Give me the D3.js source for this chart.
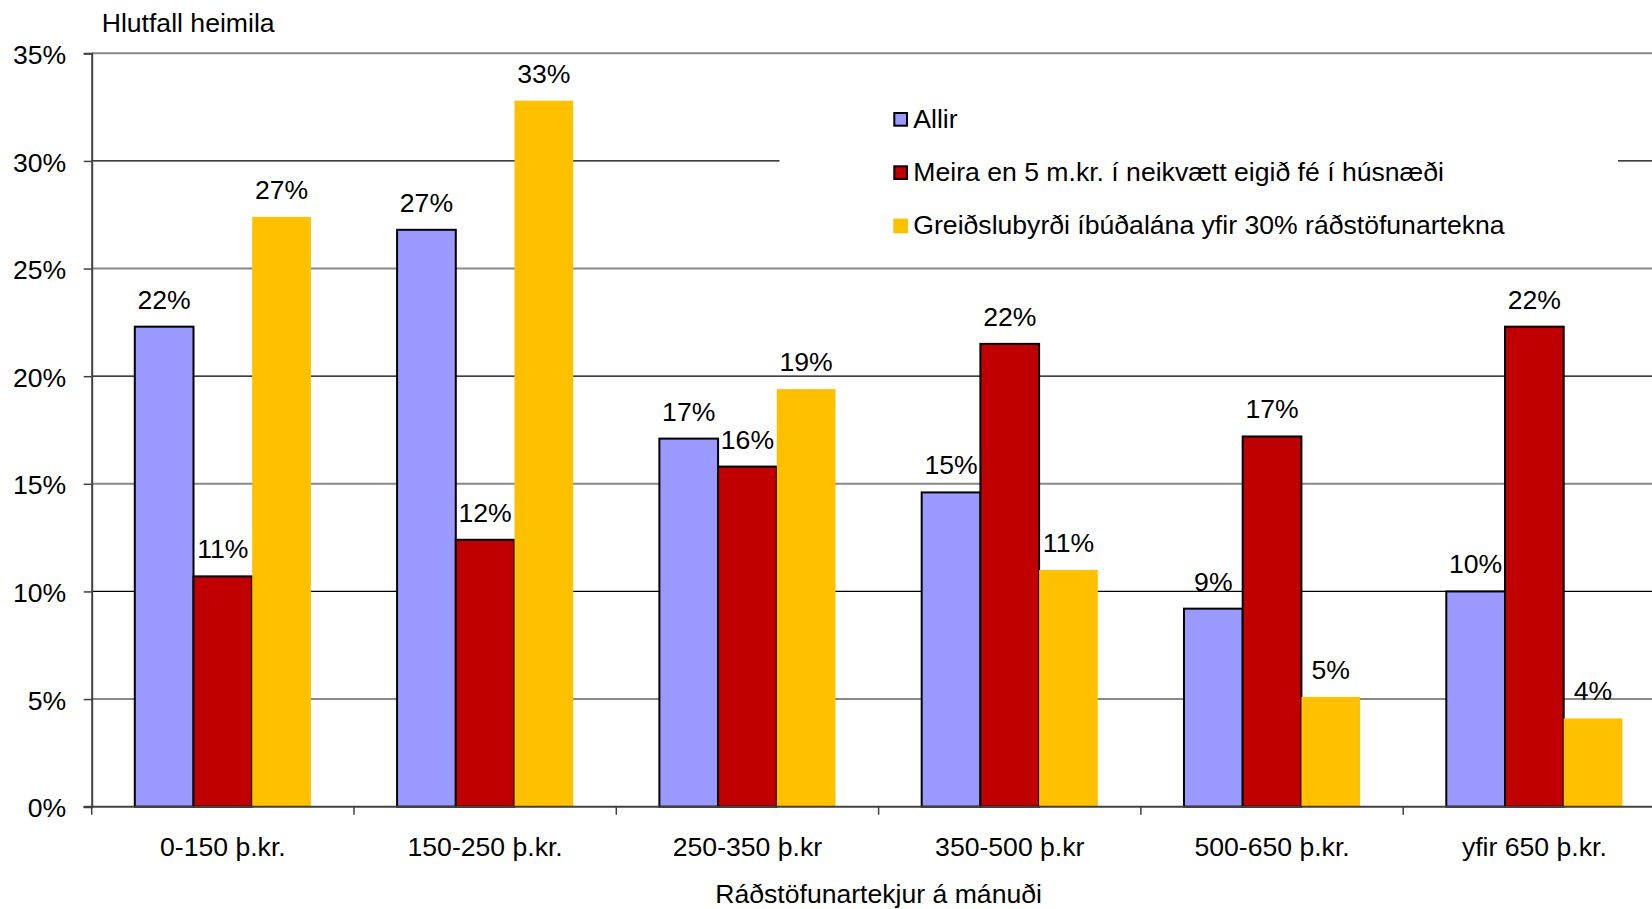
<!DOCTYPE html>
<html>
<head>
<meta charset="utf-8">
<script src="https://cdn.jsdelivr.net/npm/d3@7"></script>
<style>
  html, body { margin: 0; padding: 0; background: #fff; }
  svg { display: block; font-family: "Liberation Sans", Arial, sans-serif; }
</style>
</head>
<body>
<svg id="chart" width="1652" height="909"></svg>
<script>
// Income brackets (monthly disposable income)
const categories = ["0-150 þ.kr.", "150-250 þ.kr.", "250-350 þ.kr", "350-500 þ.kr", "500-650 þ.kr.", "yfir 650 þ.kr."];
const seriesNames = [
  "Allir",
  "Meira en 5 m.kr. í neikvætt eigið fé í húsnæði",
  "Greiðslubyrði íbúðalána yfir 30% ráðstöfunartekna"
];
// Share of households, percent
const allir      = [22.3, 26.8, 17.1, 14.6, 9.2, 10.0];
const neikvaett  = [10.7, 12.4, 15.8, 21.5, 17.2, 22.3];
const greidslu   = [27.4, 32.8, 19.4, 11.0, 5.1, 4.1];
const yTicks = [0, 5, 10, 15, 20, 25, 30, 35];
const yTitle = "Hlutfall heimila";
const xTitle = "Ráðstöfunartekjur á mánuði";

(function () {
const seriesValues = [allir, neikvaett, greidslu];
const colors = ["#9999FF", "#C00000", "#FFC000"];
const strokes = ["#000", "#000", "none"];
const fontSize = 26.6;

const svg = d3.select("#chart");

const plotLeft = 91.7, plotTop = 53.3, plotBottom = 806.7;
const catWidth = 262.3;
const plotRight = plotLeft + catWidth * categories.length;

const x0 = d3.scaleBand().domain(categories).range([plotLeft, plotRight]).padding(0);
const x1 = d3.scaleBand().domain(d3.range(seriesNames.length))
  .range([0, x0.bandwidth()]).paddingInner(0).paddingOuter(0.734);
const y = d3.scaleLinear().domain([0, 35]).range([plotBottom, plotTop]);

// Gridlines
svg.append("g").selectAll("line").data(yTicks.filter(d => d > 0)).join("line")
  .attr("x1", plotLeft).attr("x2", 1660)
  .attr("y1", d => y(d)).attr("y2", d => y(d))
  .attr("stroke", d => d % 10 === 0 ? "#000" : "#888")
  .attr("stroke-width", d => d % 10 === 0 ? 1.2 : 2);

// Legend background (breaks the gridline behind it)
svg.append("rect").attr("x", 779.5).attr("y", 82).attr("width", 838.5).attr("height", 172).attr("fill", "#fff");

// Bars
const rows = categories.map((c, i) => ({ cat: c, vals: seriesValues.map(s => s[i]) }));
const groups = svg.append("g").selectAll("g").data(rows).join("g")
  .attr("transform", d => `translate(${x0(d.cat)},0)`);

groups.selectAll("rect").data(d => d.vals.map((v, k) => ({ v, k }))).join("rect")
  .attr("x", d => x1(d.k))
  .attr("y", d => y(d.v))
  .attr("width", x1.bandwidth())
  .attr("height", d => y(0) - y(d.v))
  .attr("fill", d => colors[d.k])
  .attr("stroke", d => strokes[d.k])
  .attr("stroke-width", 2);

groups.selectAll("text").data(d => d.vals.map((v, k) => ({ v, k }))).join("text")
  .attr("x", d => x1(d.k) + x1.bandwidth() / 2)
  .attr("y", d => y(d.v) - 18)
  .attr("text-anchor", "middle")
  .attr("font-size", fontSize)
  .attr("fill", "#000")
  .text(d => Math.round(d.v) + "%");

// Y axis
const yAxis = svg.append("g").attr("transform", `translate(${plotLeft},0)`)
  .call(d3.axisLeft(y).tickValues(yTicks).tickFormat(d => d + "%").tickSize(8).tickPadding(17.5));
yAxis.select(".domain").attr("stroke", "#404040").attr("stroke-width", 2);
yAxis.selectAll(".tick line").attr("stroke", "#404040").attr("stroke-width", 1.5);
yAxis.selectAll("text").attr("font-size", fontSize).attr("font-family", "Liberation Sans, Arial, sans-serif")
  .attr("fill", "#000").attr("dy", "0.38em");

// X axis
const xAxis = svg.append("g").attr("transform", `translate(0,${plotBottom})`)
  .call(d3.axisBottom(x0).tickSize(0).tickPadding(0));
xAxis.select(".domain").remove();
xAxis.selectAll("text").attr("font-size", fontSize).attr("font-family", "Liberation Sans, Arial, sans-serif")
  .attr("fill", "#000").attr("y", 49.5).attr("dy", 0);
svg.append("line").attr("x1", plotLeft - 8).attr("x2", 1660).attr("y1", plotBottom).attr("y2", plotBottom)
  .attr("stroke", "#404040").attr("stroke-width", 2);
svg.append("g").selectAll("line").data(categories).join("line")
  .attr("x1", d => x0(d)).attr("x2", d => x0(d))
  .attr("y1", plotBottom).attr("y2", plotBottom + 8)
  .attr("stroke", "#404040").attr("stroke-width", 1.5);

// Axis titles
svg.append("text").attr("x", 101.7).attr("y", 31.7).attr("font-size", fontSize).text(yTitle);
svg.append("text").attr("x", (plotLeft + plotRight) / 2).attr("y", 902.5).attr("text-anchor", "middle")
  .attr("font-size", fontSize).text(xTitle);

// Legend
const legend = svg.append("g").selectAll("g").data(seriesNames).join("g")
  .attr("transform", (d, i) => `translate(893.3,${127.5 + i * 53.3})`);
legend.append("rect")
  .attr("x", (d, i) => strokes[i] === "none" ? 0 : 1)
  .attr("y", (d, i) => strokes[i] === "none" ? -15.5 : -14.5)
  .attr("width", (d, i) => strokes[i] === "none" ? 14.7 : 12.7)
  .attr("height", (d, i) => strokes[i] === "none" ? 14.7 : 12.7)
  .attr("fill", (d, i) => colors[i])
  .attr("stroke", (d, i) => strokes[i])
  .attr("stroke-width", 2);
legend.append("text").attr("x", 20).attr("y", 0).attr("font-size", fontSize).text(d => d);
})();
</script>
</body>
</html>
